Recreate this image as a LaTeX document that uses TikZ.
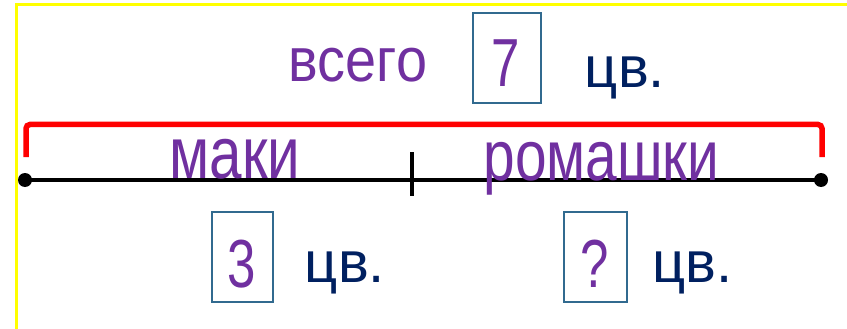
\documentclass[tikz,border=0pt]{standalone}
\usepackage{fontspec}
\setmainfont{Liberation Sans}
\newfontfamily\fvsego[FakeStretch=0.9]{Liberation Sans}
\newfontfamily\fnarrow[FakeStretch=0.8]{Liberation Sans}
\newfontfamily\fdigit[FakeStretch=0.75]{Liberation Sans}
\definecolor{txtpurple}{RGB}{112,48,160}
\definecolor{txtnavy}{RGB}{0,32,96}
\definecolor{boxblue}{RGB}{49,106,143}
\definecolor{bracketred}{RGB}{255,0,0}
\definecolor{frameyellow}{RGB}{255,255,0}
\begin{document}
\begin{tikzpicture}[x=1pt,y=-1pt,
  word/.style={inner sep=0pt,anchor=base,text=txtpurple},
  unit/.style={inner sep=0pt,anchor=base,text=txtnavy,font=\fontsize{58}{58}\selectfont},
  numbox/.style={draw=boxblue,line width=1.6pt,minimum width=#1,minimum height=90pt,inner sep=0pt},
  digit/.style={inner sep=0pt,anchor=base,text=txtpurple,font=\fdigit\fontsize{68}{68}\selectfont},
  dot/.style={circle,fill=black,inner sep=0pt,minimum size=14pt},
  axis/.style={black,line width=3.5pt},
  tickmark/.style={black,line width=4pt},
  bracket/.style={bracketred,line width=5.5pt,rounded corners=4pt}]
\useasboundingbox (0,0) rectangle (847,329);
\fill[white] (0,0) rectangle (847,329);
% yellow frame
\coordinate (fa) at (16.5,329);
\coordinate (fb) at (16.5,5);
\coordinate (fc) at (847,5);
\draw[frameyellow,line width=3pt] (fa) -- (fb) -- (fc);
% top text
\node[word,font=\fvsego\fontsize{62}{62}\selectfont] (vsego) at (358,82) {всего};
\node[numbox=68pt] (b7) at (507,58) {};
\node[digit] (d7) at (506,87) {7};
\node[unit] (cv1) at (625,88) {цв.};
% red bracket
\coordinate (ra) at (26,157);
\coordinate (rb) at (26,124.5);
\coordinate (rc) at (822,124.5);
\coordinate (rd) at (822,157);
\draw[bracket] (ra) -- (rb) -- (rc) -- (rd);
% segment
\node[dot] (L) at (25,180) {};
\node[dot] (R) at (821,180) {};
\draw[axis] (L.center) -- (R.center);
\coordinate (ta) at (412,152);
\coordinate (tb) at (412,196);
\draw[tickmark] (ta) -- (tb);
% labels
\node[word,font=\fnarrow\fontsize{73}{73}\selectfont] (maki) at (235,178) {маки};
\node[word,font=\fnarrow\fontsize{71}{71}\selectfont] (rom) at (601.5,180) {ромашки};
% bottom
\node[numbox=61pt] (b3) at (242.5,257) {};
\node[digit] (d3) at (242,287) {3};
\node[unit] (cv2) at (345,282) {цв.};
\node[numbox=63pt] (bq) at (595.5,257) {};
\node[digit] (dq) at (595,287) {?};
\node[unit] (cv3) at (692.5,282) {цв.};
\end{tikzpicture}
\end{document}
